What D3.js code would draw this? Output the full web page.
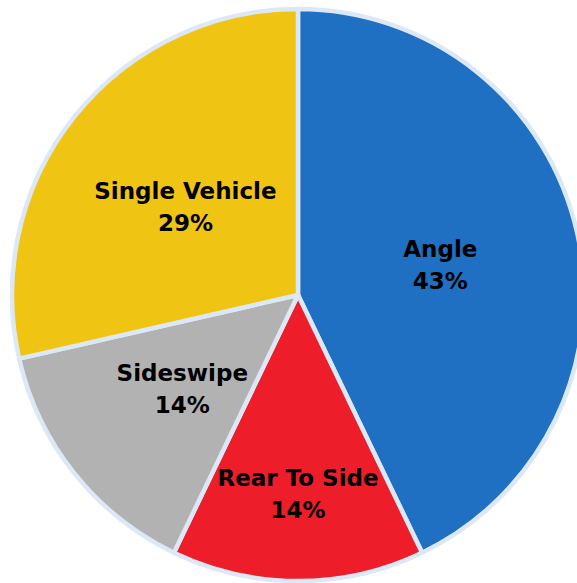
<!DOCTYPE html>
<html><head><meta charset="utf-8">
<script src="https://cdn.jsdelivr.net/npm/d3@7"></script>
<style>body{margin:0;background:#fff;}svg{display:block;}</style>
</head><body>
<svg id="c" width="577" height="583"></svg>
<script>
const categories = ["Angle", "Rear To Side", "Sideswipe", "Single Vehicle"];
const counts = [3, 1, 1, 2];
const percentLabels = ["43%", "14%", "14%", "29%"];
const colors = ["#1F6FC3", "#ED1D2A", "#B2B2B2", "#F0C413"];

const svg = d3.select("#c");
const cx = 298, cy = 295, R = 286;
const g = svg.append("g").attr("transform", `translate(${cx},${cy})`);
const data = categories.map((c, i) => ({cat: c, v: counts[i], pct: percentLabels[i], color: colors[i]}));
const pie = d3.pie().value(d => d.v).sort(null);
const arcs = pie(data);
const arc = d3.arc().innerRadius(0).outerRadius(R);
g.selectAll("path").data(arcs).join("path")
  .attr("d", arc).attr("fill", d => d.data.color)
  .attr("stroke", "#DCE8F5").attr("stroke-width", 4.5).attr("stroke-linejoin", "round");

const labelR = [146, 197, 148, 144];
arcs.forEach((a, i) => {
  const mid = (a.startAngle + a.endAngle) / 2;
  const x = Math.sin(mid) * labelR[i], y = -Math.cos(mid) * labelR[i];
  const t = g.append("text").attr("text-anchor", "middle")
    .attr("font-family", "'DejaVu Sans', sans-serif").attr("font-weight", "bold")
    .attr("font-size", 23).attr("fill", "#000");
  t.append("tspan").attr("x", x).attr("y", y - 6).text(a.data.cat);
  t.append("tspan").attr("x", x).attr("y", y + 26).text(a.data.pct);
});
</script>
</body></html>
